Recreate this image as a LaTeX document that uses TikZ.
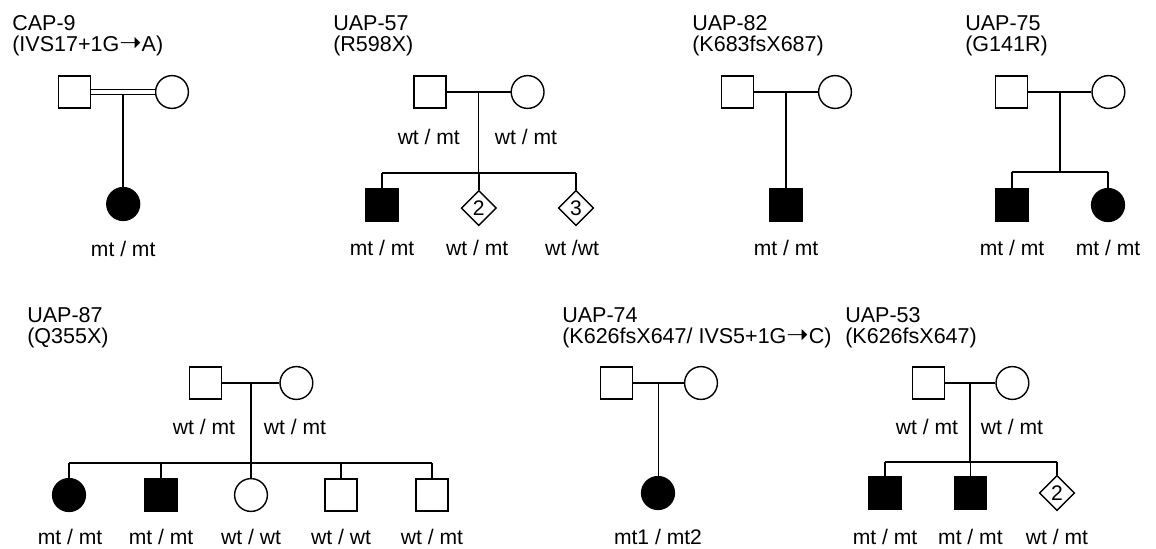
\documentclass[tikz,border=0pt]{standalone}
\usepackage{fontspec}
\setmainfont{Liberation Sans}
\newfontfamily\arrowfont{DejaVu Sans}
\newcommand{\mutarrow}{{\arrowfont\fontsize{19}{15}\selectfont ➝}}
\usetikzlibrary{shapes.geometric,positioning,calc}

\begin{document}
\begin{tikzpicture}[
    male/.style={draw, rectangle, minimum size=0.8cm, inner sep=0pt, line width=1pt},
    female/.style={draw, circle, minimum size=0.82cm, inner sep=0pt, line width=1pt},
    unsexed/.style={draw, diamond, minimum size=0.88cm, inner sep=0pt, line width=1pt,
                    font=\fontsize{15}{15}\selectfont},
    affected/.style={fill=black},
    famid/.style={anchor=north west, align=left, inner sep=0pt, font=\fontsize{15.3}{15}\selectfont},
    geno/.style={inner sep=0pt, font=\fontsize{15}{15}\selectfont},
    conn/.style={-, line width=1.1pt},
    consang/.style={-, line width=0.9pt, double, double distance=2.4pt}
]
\useasboundingbox (0,0) rectangle (28.9,-13.7);

% --- CAP-9 ---
\node[famid] (cap9) at (0.3,-0.375) {CAP-9\\(IVS17+1G\mutarrow A)};
\node[male] (cap9f) at (1.86,-2.3) {};
\node[female] (cap9m) at (4.3,-2.3) {};
\coordinate (cap9x) at ($(cap9f.east)!0.5!(cap9m.west)$);
\node[female, affected] (cap9c1) at (3.08,-5.1) {};
\node[geno] (cap9g1) at (3.08,-6.225) {mt / mt};
\draw[conn] (cap9x) -- (cap9x |- cap9c1.north);
\draw[consang] (cap9f) -- (cap9m);

% --- UAP-57 ---
\node[famid] (u57) at (8.325,-0.375) {UAP-57\\(R598X)};
\node[male] (u57f) at (10.75,-2.3) {};
\node[female] (u57m) at (13.19,-2.3) {};
\node[geno] (u57gf) at (10.72,-3.425) {wt / mt};
\node[geno] (u57gm) at (13.15,-3.425) {wt / mt};
\coordinate (u57x) at ($(u57f.east)!0.5!(u57m.west)$);
\coordinate (u57s) at (u57x |- 0,-4.325);
\node[male, affected] (u57c1) at (9.55,-5.125) {};
\node[unsexed] (u57c2) at (11.97,-5.2) {2};
\node[unsexed] (u57c3) at (14.4,-5.2) {3};
\node[geno] (u57g1) at (9.55,-6.2) {mt / mt};
\node[geno] (u57g2) at (11.93,-6.2) {wt / mt};
\node[geno] (u57g3) at (14.3,-6.2) {wt /wt};
\draw[conn] (u57f) -- (u57m);
\draw[conn] (u57x) -- (u57s);
\draw[conn] (u57c1 |- u57s) -- (u57c3 |- u57s);
\draw[conn] (u57c1 |- u57s) -- (u57c1.north);
\draw[conn] (u57c2 |- u57s) -- (u57c2.north);
\draw[conn] (u57c3 |- u57s) -- (u57c3.north);

% --- UAP-82 ---
\node[famid] (u82) at (17.3,-0.375) {UAP-82\\(K683fsX687)};
\node[male] (u82f) at (18.44,-2.3) {};
\node[female] (u82m) at (20.875,-2.3) {};
\coordinate (u82x) at ($(u82f.east)!0.5!(u82m.west)$);
\node[male, affected] (u82c1) at (19.65,-5.125) {};
\node[geno] (u82g1) at (19.65,-6.2) {mt / mt};
\draw[conn] (u82f) -- (u82m);
\draw[conn] (u82x) -- (u82x |- u82c1.north);

% --- UAP-75 ---
\node[famid] (u75) at (24.125,-0.375) {UAP-75\\(G141R)};
\node[male] (u75f) at (25.29,-2.3) {};
\node[female] (u75m) at (27.71,-2.3) {};
\coordinate (u75x) at ($(u75f.east)!0.5!(u75m.west)$);
\coordinate (u75s) at (u75x |- 0,-4.3);
\node[male, affected] (u75c1) at (25.3,-5.125) {};
\node[female, affected] (u75c2) at (27.7,-5.125) {};
\node[geno] (u75g1) at (25.3,-6.2) {mt / mt};
\node[geno] (u75g2) at (27.7,-6.2) {mt / mt};
\draw[conn] (u75f) -- (u75m);
\draw[conn] (u75x) -- (u75s);
\draw[conn] (u75c1 |- u75s) -- (u75c2 |- u75s);
\draw[conn] (u75c1 |- u75s) -- (u75c1.north);
\draw[conn] (u75c2 |- u75s) -- (u75c2.north);

% --- UAP-87 ---
\node[famid] (u87) at (0.675,-7.675) {UAP-87\\(Q355X)};
\node[male] (u87f) at (5.14,-9.575) {};
\node[female] (u87m) at (7.41,-9.575) {};
\node[geno] (u87gf) at (5.1,-10.675) {wt / mt};
\node[geno] (u87gm) at (7.375,-10.675) {wt / mt};
\coordinate (u87x) at ($(u87f.east)!0.5!(u87m.west)$);
\coordinate (u87s) at (u87x |- 0,-11.575);
\node[female, affected] (u87c1) at (1.725,-12.375) {};
\node[male, affected] (u87c2) at (4.025,-12.375) {};
\node[female] (u87c3) at (6.275,-12.375) {};
\node[male] (u87c4) at (8.525,-12.375) {};
\node[male] (u87c5) at (10.8,-12.375) {};
\node[geno] (u87g1) at (1.75,-13.43) {mt / mt};
\node[geno] (u87g2) at (4.025,-13.43) {mt / mt};
\node[geno] (u87g3) at (6.275,-13.43) {wt / wt};
\node[geno] (u87g4) at (8.525,-13.43) {wt / wt};
\node[geno] (u87g5) at (10.8,-13.43) {wt / mt};
\draw[conn] (u87f) -- (u87m);
\draw[conn] (u87x) -- (u87s);
\draw[conn] (u87c1 |- u87s) -- (u87c5 |- u87s);
\draw[conn] (u87c1 |- u87s) -- (u87c1.north);
\draw[conn] (u87c2 |- u87s) -- (u87c2.north);
\draw[conn] (u87c3 |- u87s) -- (u87c3.north);
\draw[conn] (u87c4 |- u87s) -- (u87c4.north);
\draw[conn] (u87c5 |- u87s) -- (u87c5.north);

% --- UAP-74 ---
\node[famid] (u74) at (14.05,-7.675) {UAP-74\\(K626fsX647/ IVS5+1G\mutarrow C)};
\node[male] (u74f) at (15.41,-9.575) {};
\node[female] (u74m) at (17.525,-9.575) {};
\coordinate (u74x) at ($(u74f.east)!0.5!(u74m.west)$);
\node[female, affected] (u74c1) at (16.45,-12.325) {};
\node[geno] (u74g1) at (16.45,-13.43) {mt1 / mt2};
\draw[conn] (u74f) -- (u74m);
\draw[conn] (u74x) -- (u74x |- u74c1.north);

% --- UAP-53 ---
\node[famid] (u53) at (21.125,-7.675) {UAP-53\\(K626fsX647)};
\node[male] (u53f) at (23.21,-9.575) {};
\node[female] (u53m) at (25.31,-9.575) {};
\node[geno] (u53gf) at (23.175,-10.675) {wt / mt};
\node[geno] (u53gm) at (25.3,-10.675) {wt / mt};
\coordinate (u53x) at ($(u53f.east)!0.5!(u53m.west)$);
\coordinate (u53s) at (u53x |- 0,-11.55);
\node[male, affected] (u53c1) at (22.125,-12.325) {};
\node[male, affected] (u53c2) at (24.26,-12.325) {};
\node[unsexed] (u53c3) at (26.425,-12.325) {2};
\node[geno] (u53g1) at (22.125,-13.43) {mt / mt};
\node[geno] (u53g2) at (24.26,-13.43) {mt / mt};
\node[geno] (u53g3) at (26.425,-13.43) {wt / mt};
\draw[conn] (u53f) -- (u53m);
\draw[conn] (u53x) -- (u53s);
\draw[conn] (u53c1 |- u53s) -- (u53c3 |- u53s);
\draw[conn] (u53c1 |- u53s) -- (u53c1.north);
\draw[conn] (u53c2 |- u53s) -- (u53c2.north);
\draw[conn] (u53c3 |- u53s) -- (u53c3.north);

\end{tikzpicture}
\end{document}
